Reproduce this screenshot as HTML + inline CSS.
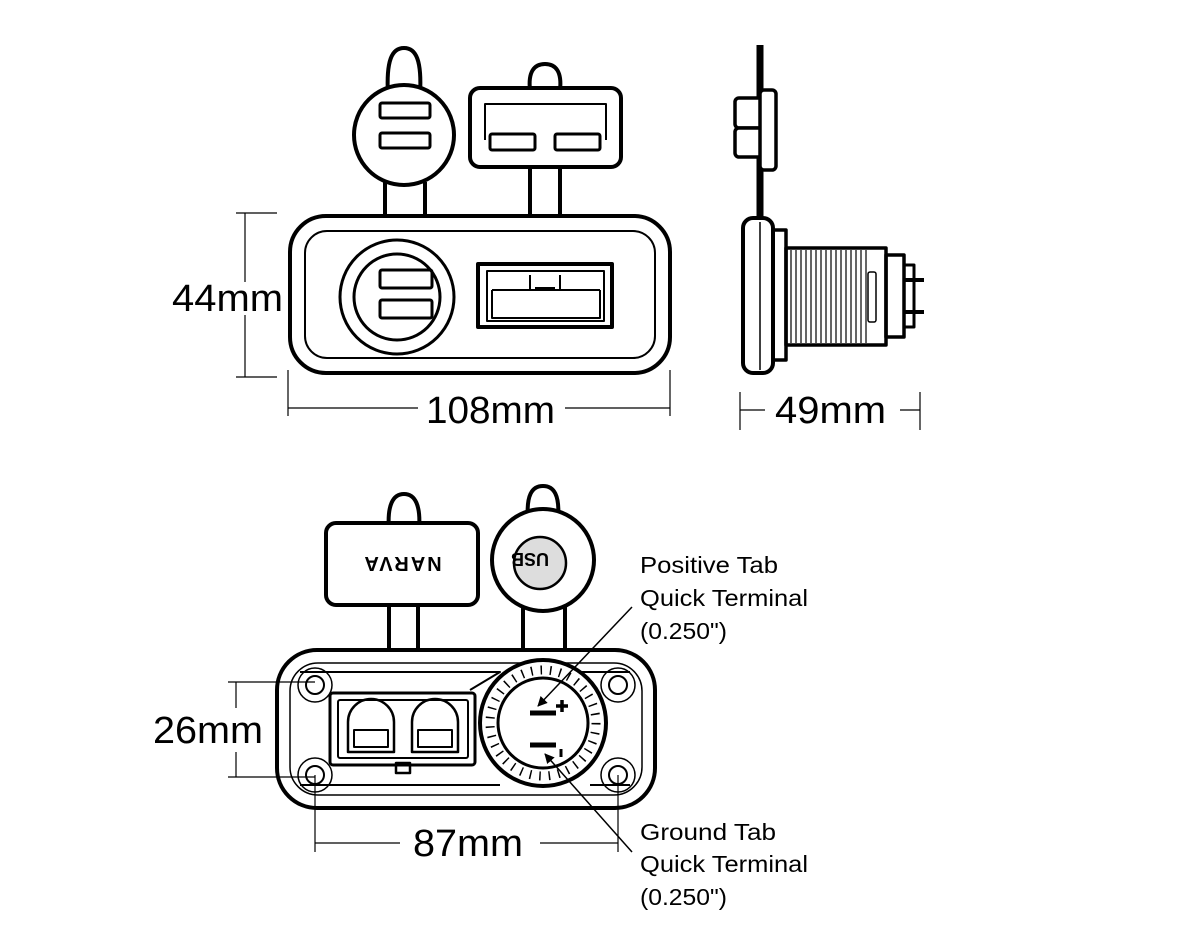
<!DOCTYPE html>
<html><head><meta charset="utf-8"><style>
html,body{margin:0;padding:0;background:#fff;}
svg{display:block;}
text{font-family:"Liberation Sans",sans-serif;fill:#000;}
</style></head><body>
<svg width="1200" height="950" viewBox="0 0 1200 950" xmlns="http://www.w3.org/2000/svg">
<defs>
<marker id="ar" markerWidth="10" markerHeight="10" refX="9" refY="5" orient="auto" markerUnits="userSpaceOnUse"><path d="M0,0 L10,5 L0,10 z" fill="#000"/></marker>
</defs>
<g fill="none" stroke="#000" stroke-linejoin="round">
<path d="M385,182 L385,218 M425,182 L425,218" stroke-width="4"/>
<path d="M388,95 C386,60 392,48 404,48 C416,48 422,60 420,95" stroke-width="4" fill="#fff"/>
<circle cx="404" cy="135" r="50" stroke-width="4" fill="#fff"/>
<rect x="380" y="103" width="50" height="15" rx="2" stroke-width="3"/>
<rect x="380" y="133" width="50" height="15" rx="2" stroke-width="3"/>
<path d="M530,167 L530,218 M560,167 L560,218" stroke-width="4"/>
<path d="M530,90 C528,72 534,64 545,64 C556,64 562,72 560,90" stroke-width="4" fill="#fff"/>
<rect x="470" y="88" width="151" height="79" rx="10" stroke-width="4" fill="#fff"/>
<path d="M485,140 L485,104 L606,104 L606,140" stroke-width="2"/>
<rect x="490" y="134" width="45" height="16" rx="2" stroke-width="3"/>
<rect x="555" y="134" width="45" height="16" rx="2" stroke-width="3"/>
<rect x="290" y="216" width="380" height="157" rx="36" stroke-width="4" fill="#fff"/>
<rect x="305" y="231" width="350" height="127" rx="22" stroke-width="2"/>
<circle cx="397" cy="297" r="57" stroke-width="3"/>
<circle cx="397" cy="297" r="43" stroke-width="3"/>
<rect x="380" y="270" width="52" height="18" rx="2" stroke-width="3"/>
<rect x="380" y="300" width="52" height="18" rx="2" stroke-width="3"/>
<rect x="478" y="264" width="134" height="63" stroke-width="4"/>
<rect x="487" y="271" width="117" height="50" stroke-width="2"/>
<path d="M492,290 L530,290 L530,275 M560,275 L560,290 L600,290 M492,290 L492,318 L600,318 L600,290 M530,290 L560,290" stroke-width="2"/>
<rect x="535" y="287" width="20" height="4" fill="#000" stroke="none"/>
<g stroke-width="1.2">
<path d="M245,213 L245,282 M245,315 L245,377 M236,213 L277,213 M236,377 L277,377"/>
<path d="M288,408 L418,408 M565,408 L670,408 M288,370 L288,416 M670,370 L670,416"/>
<path d="M740,410 L765,410 M900,410 L920,410 M740,392 L740,430 M920,392 L920,430"/>
</g>
<path d="M760,45 L760,228" stroke-width="7"/>
<rect x="735" y="98" width="28" height="30" rx="4" stroke-width="3.5" fill="#fff"/>
<rect x="735" y="128" width="28" height="29" rx="4" stroke-width="3.5" fill="#fff"/>
<rect x="760" y="90" width="16" height="80" rx="4" stroke-width="3.5" fill="#fff"/>
<rect x="743" y="218" width="30" height="155" rx="10" stroke-width="4" fill="#fff"/>
<path d="M760,222 L760,370" stroke-width="1.5"/>
<rect x="773" y="230" width="13" height="130" stroke-width="3.5"/>
<rect x="786" y="248" width="100" height="97" stroke-width="3.5"/>
<g stroke-width="1.2">
<path d="M791,250V343 M796,250V343 M801,250V343 M806,250V343 M811,250V343 M816,250V343 M821,250V343 M826,250V343 M831,250V343 M836,250V343 M841,250V343 M846,250V343 M851,250V343 M856,250V343 M861,250V343 M866,250V343"/>
</g>
<rect x="868" y="272" width="8" height="50" rx="2" stroke-width="1.5"/>
<rect x="886" y="255" width="18" height="82" stroke-width="3.5"/>
<rect x="904" y="265" width="10" height="62" stroke-width="3"/>
<path d="M904,280 L924,280 M904,312 L924,312" stroke-width="4"/>
<path d="M389,605 L389,695 M418,605 L418,695" stroke-width="4"/>
<path d="M389,530 C387,505 393,494 404,494 C415,494 421,505 419,530" stroke-width="4" fill="#fff"/>
<rect x="326" y="523" width="152" height="82" rx="10" stroke-width="4" fill="#fff"/>
<path d="M523,600 L523,668 M565,600 L565,668" stroke-width="4"/>
<path d="M528,520 C526,495 532,486 543,486 C554,486 560,495 558,520" stroke-width="4" fill="#fff"/>
<circle cx="543" cy="560" r="51" stroke-width="4" fill="#fff"/>
<circle cx="540" cy="563" r="26" stroke-width="2.5" fill="#ddd"/>
<rect x="277" y="650" width="378" height="158" rx="40" stroke-width="4" fill="#fff"/>
<rect x="290" y="663" width="352" height="132" rx="28" stroke-width="1.5"/>
<path d="M300,672 L500,672 L470,690 M560,672 L630,672" stroke-width="2"/>
<path d="M300,785 L500,785 M590,785 L630,785" stroke-width="2"/>
<circle cx="315" cy="685" r="17" stroke-width="1.5"/><circle cx="315" cy="685" r="9" stroke-width="2"/>
<circle cx="315" cy="775" r="17" stroke-width="1.5"/><circle cx="315" cy="775" r="9" stroke-width="2"/>
<circle cx="618" cy="685" r="17" stroke-width="1.5"/><circle cx="618" cy="685" r="9" stroke-width="2"/>
<circle cx="618" cy="775" r="17" stroke-width="1.5"/><circle cx="618" cy="775" r="9" stroke-width="2"/>
<rect x="330" y="693" width="145" height="72" rx="3" stroke-width="3" fill="#fff"/>
<rect x="338" y="700" width="130" height="58" rx="2" stroke-width="2"/>
<path d="M348,752 L348,722 A23,23 0 0 1 394,722 L394,752 Z" stroke-width="2.5"/>
<path d="M412,752 L412,722 A23,23 0 0 1 458,722 L458,752 Z" stroke-width="2.5"/>
<rect x="354" y="730" width="34" height="17" stroke-width="2"/>
<rect x="418" y="730" width="34" height="17" stroke-width="2"/>
<rect x="396" y="763" width="14" height="10" stroke-width="2.5"/>
<circle cx="543" cy="723" r="63" stroke-width="4" fill="#fff"/>
<circle cx="543" cy="723" r="53" stroke="#000" stroke-width="9" stroke-dasharray="1.5 8"/>
<circle cx="543" cy="723" r="45" stroke-width="3" fill="#fff"/>
<path d="M530,713 L556,713 M530,745 L556,745" stroke-width="5"/>
<path d="M562,700 L562,712 M556,706 L568,706" stroke-width="3.5"/>
<path d="M561,749 L561,757" stroke-width="3"/>
<path d="M632,607 L538,706" stroke-width="1.5" marker-end="url(#ar)"/>
<path d="M632,852 L545,754" stroke-width="1.5" marker-end="url(#ar)"/>
<g stroke-width="1.2">
<path d="M236,682 L236,708 M236,752 L236,777 M228,682 L315,682 M228,777 L315,777"/>
<path d="M315,775 L315,852 M618,775 L618,852 M315,843 L400,843 M540,843 L618,843"/>
</g>
</g>
<text x="531" y="565" font-size="18" font-weight="bold" transform="rotate(180 540 559)">USB</text>
<text x="402" y="569" font-size="20" font-weight="bold" text-anchor="middle" transform="rotate(180 402 563)" letter-spacing="2">NARVA</text>
<g font-size="38">
<text x="172" y="311" textLength="111" lengthAdjust="spacingAndGlyphs">44mm</text>
<text x="426" y="423" textLength="129" lengthAdjust="spacingAndGlyphs">108mm</text>
<text x="775" y="423" textLength="111" lengthAdjust="spacingAndGlyphs">49mm</text>
<text x="153" y="743" textLength="110" lengthAdjust="spacingAndGlyphs">26mm</text>
<text x="413" y="856" textLength="110" lengthAdjust="spacingAndGlyphs">87mm</text>
</g>
<g font-size="23">
<text x="640" y="573" textLength="138" lengthAdjust="spacingAndGlyphs">Positive Tab</text>
<text x="640" y="606" textLength="168" lengthAdjust="spacingAndGlyphs">Quick Terminal</text>
<text x="640" y="639" textLength="87" lengthAdjust="spacingAndGlyphs">(0.250")</text>
<text x="640" y="840" textLength="136" lengthAdjust="spacingAndGlyphs">Ground Tab</text>
<text x="640" y="872" textLength="168" lengthAdjust="spacingAndGlyphs">Quick Terminal</text>
<text x="640" y="905" textLength="87" lengthAdjust="spacingAndGlyphs">(0.250")</text>
</g>
</svg>
</body></html>
